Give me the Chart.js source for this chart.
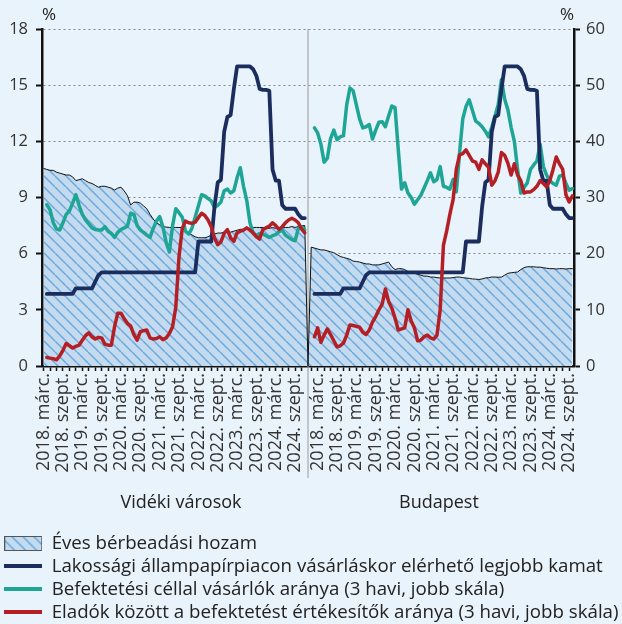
<!DOCTYPE html>
<html lang="hu">
<head>
<meta charset="utf-8">
<title>Bérbeadási hozam és befektetési célú vásárlások</title>
<script src="https://cdn.jsdelivr.net/npm/chart.js@4.4.1/dist/chart.umd.min.js"></script>
<style>
  html, body { margin: 0; padding: 0; background: #e8f3fb; }
  #wrap { width: 622px; height: 624px; }
</style>
</head>
<body>
<div id="wrap"><canvas id="chart" width="622" height="624"></canvas></div>
<script>
// panels and series names
var panels = ['Vidéki városok', 'Budapest'];
var seriesNames = [
    'Éves bérbeadási hozam',
    'Lakossági állampapírpiacon vásárláskor elérhető legjobb kamat',
    'Befektetési céllal vásárlók aránya (3 havi, jobb skála)',
    'Eladók között a befektetést értékesítők aránya (3 havi, jobb skála)'
];
var monthNames = ['jan.', 'febr.', 'márc.', 'ápr.', 'máj.', 'jún.', 'júl.', 'aug.', 'szept.', 'okt.', 'nov.', 'dec.'];
var shownMonths = ['márc.', 'szept.'];
// first month of each panel [year, month] and number of months per panel
var panelStart = [[2018, 3], [2018, 1]];
var panelMonths = 82;

// Vidéki városok (monthly)
var vidYield = [10.55, 10.5, 10.45, 10.45, 10.35, 10.3, 10.25, 10.2, 10.2, 10.1,
    9.9, 9.95, 10.0, 9.9, 9.8, 9.75, 9.65, 9.55, 9.6, 9.6,
    9.55, 9.5, 9.4, 9.5, 9.55, 9.35, 9.1, 8.6, 8.75, 8.75,
    8.7, 8.55, 8.4, 8.1, 7.85, 7.65, 7.55, 7.45, 7.42, 7.4,
    7.4, 7.4, 7.4, 7.4, 7.3, 7.1, 7.0, 6.9, 6.85, 6.85,
    6.85, 6.9, 7.0, 7.05, 7.1, 7.1, 7.15, 7.2, 7.15, 7.2,
    7.25, 7.3, 7.3, 7.3, 7.35, 7.4, 7.4, 7.4, 7.4, 7.38,
    7.35, 7.4, 7.35, 7.4, 7.4, 7.4, 7.4, 7.45, 7.4, 7.45,
    7.5, 7.5];
var vidBuyers = [null, 28.7, 27.8, 25.5, 24.4, 24.2, 25.5, 27.0, 27.6, 29.0,
    30.5, 28.6, 27.0, 26.0, 25.3, 24.6, 24.3, 24.2, 24.2, 24.8,
    24.0, 23.6, 22.9, 23.8, 24.3, 24.6, 24.9, 27.2, 27.0, 25.0,
    24.2, 23.8, 23.3, 22.9, 24.5, 25.8, 26.6, 24.8, 22.0, 20.3,
    25.0, 28.0, 27.3, 26.5, 24.0, 23.5, 24.5, 26.5, 28.5, 30.5,
    30.3, 29.8, 29.4, 28.2, 28.6, 29.2, 31.2, 31.5, 30.8, 31.2,
    33.5, 35.3, 32.0, 29.5, 25.5, 23.6, 23.2, 23.6, 23.5, 23.2,
    22.9, 23.2, 23.4, 23.9, 24.2, 23.3, 22.9, 22.5, 22.3, 24.5,
    24.8, 24.2];
var vidSellers = [null, 1.5, 1.4, 1.3, 1.1, 1.8, 2.8, 4.0, 3.6, 3.2,
    3.5, 3.7, 4.6, 5.4, 5.9, 5.2, 4.8, 5.1, 5.0, 3.9,
    3.7, 3.7, 7.0, 9.4, 9.4, 8.4, 7.6, 7.1, 5.6, 4.6,
    6.1, 6.3, 6.4, 5.0, 4.8, 4.9, 5.2, 4.7, 5.0, 5.8,
    7.0, 10.5, 19.5, 24.5, 25.8, 25.5, 25.4, 25.6, 26.4, 27.2,
    26.8, 26.0, 24.8, 22.8, 21.6, 22.1, 23.6, 24.3, 22.8, 22.2,
    23.7, 24.0, 24.2, 24.6, 24.2, 23.7, 23.0, 22.6, 24.3, 24.6,
    24.9, 25.5, 25.0, 24.3, 24.8, 25.5, 26.0, 26.3, 26.0, 25.5,
    24.4, 23.7];

// Budapest (monthly)
var bpYield = [6.35, 6.3, 6.25, 6.2, 6.2, 6.15, 6.1, 6.05, 5.95, 5.85,
    5.8, 5.75, 5.7, 5.6, 5.58, 5.55, 5.5, 5.45, 5.45, 5.4,
    5.4, 5.4, 5.45, 5.5, 5.55, 5.3, 5.15, 5.2, 5.2, 5.15,
    5.05, 5.0, 4.95, 4.9, 4.85, 4.8, 4.8, 4.75, 4.75, 4.72,
    4.7, 4.7, 4.7, 4.7, 4.72, 4.75, 4.75, 4.72, 4.7, 4.68,
    4.65, 4.64, 4.62, 4.65, 4.7, 4.72, 4.75, 4.75, 4.74, 4.75,
    4.85, 4.95, 4.98, 5.0, 5.02, 5.15, 5.25, 5.3, 5.3, 5.3,
    5.28, 5.28, 5.25, 5.22, 5.2, 5.2, 5.18, 5.2, 5.2, 5.18,
    5.2, 5.2];
var bpBuyers = [null, 42.4, 41.5, 39.5, 36.3, 37.0, 40.5, 42.0, 40.3, 40.8,
    41.0, 46.5, 49.5, 49.0, 46.5, 44.0, 42.4, 42.6, 43.0, 40.4,
    42.0, 43.4, 43.5, 42.6, 44.5, 46.3, 46.0, 38.5, 31.5, 32.6,
    30.8, 30.0, 28.8, 29.6, 30.4, 31.7, 33.0, 34.4, 32.8, 33.2,
    35.5, 32.0, 31.8, 31.5, 33.2, 31.0, 37.9, 44.0, 46.2, 47.4,
    45.5, 43.6, 43.2, 42.6, 41.8, 40.8, 42.5, 44.5, 46.5, 51.0,
    47.5, 45.6, 42.5, 40.0, 35.0, 30.8, 31.8, 32.6, 35.0, 35.8,
    36.5, 39.5, 35.5, 34.0, 33.0, 32.5, 32.2, 33.8, 34.0, 32.5,
    31.3, 31.6];
var bpSellers = [null, 5.2, 6.8, 4.2, 5.5, 6.6, 5.6, 4.5, 3.4, 3.6,
    4.1, 5.5, 7.3, 7.2, 7.05, 6.9, 6.0, 5.6, 6.4, 7.8,
    8.8, 10.0, 11.0, 13.7, 11.5, 10.3, 8.5, 6.4, 6.6, 6.8,
    10.0, 8.0, 6.8, 4.5, 4.6, 5.2, 5.5, 5.0, 4.8, 5.5,
    10.0, 21.5, 24.0, 27.0, 29.6, 35.0, 37.6, 37.8, 38.5, 37.5,
    36.5, 36.3, 35.0, 36.7, 36.0, 35.4, 32.2, 33.0, 34.5, 38.0,
    37.5, 36.1, 34.0, 36.0, 34.0, 33.0, 30.8, 31.0, 31.0, 31.4,
    32.0, 33.0, 32.5, 31.9, 33.0, 35.0, 37.2, 36.0, 35.0, 30.5,
    29.2, 30.3];

// best retail government bond rate - same line in both panels
var bondRate = [null, 3.85, 3.85, 3.85, 3.85, 3.85, 3.85, 3.85, 3.85, 3.85,
    4.15, 4.15, 4.15, 4.15, 4.15, 4.15, 4.5, 4.85, 5.0, 5.0,
    5.0, 5.0, 5.0, 5.0, 5.0, 5.0, 5.0, 5.0, 5.0, 5.0,
    5.0, 5.0, 5.0, 5.0, 5.0, 5.0, 5.0, 5.0, 5.0, 5.0,
    5.0, 5.0, 5.0, 5.0, 5.0, 5.0, 5.0, 5.0, 6.65, 6.65,
    6.65, 6.65, 6.65, 8.5, 9.8, 9.95, 12.5, 13.3, 13.4, 14.8,
    16.0, 16.0, 16.0, 16.0, 16.0, 15.85, 15.5, 14.8, 14.75, 14.75,
    14.7, 10.5, 9.9, 9.9, 8.6, 8.4, 8.4, 8.4, 8.4, 8.1,
    7.9, 7.9];

var colors = {
    area: '#c4daef',
    hatch: '#6ba9dd',
    rate: '#1b2d5e',
    buyers: '#1ea596',
    sellers: '#b41f26'
};
var fontFamily = '"Open Sans", "Noto Sans", sans-serif';

// month labels for the two panels, with one empty slot between them
function panelLabels(start) {
    var labels = [], nums = [];
    for (var k = 0; k < panelMonths; k++) {
        var m = (start[1] - 1 + k) % 12;
        var y = start[0] + Math.floor((start[1] - 1 + k) / 12);
        labels.push(y + '. ' + monthNames[m]);
        nums.push(m + 1);
    }
    return { labels: labels, nums: nums };
}
var p1 = panelLabels(panelStart[0]);
var p2 = panelLabels(panelStart[1]);
var gapIndex = panelMonths;
var xLabels = p1.labels.concat([''], p2.labels);
var xMonth = p1.nums.concat([0], p2.nums);

function joinPanels(a, b, gapValue) {
    return a.concat([gapValue], b);
}

function makeHatch(w, h, step) {
    var c = document.createElement('canvas');
    c.width = w; c.height = h;
    var g = c.getContext('2d');
    g.fillStyle = colors.area;
    g.fillRect(0, 0, w, h);
    g.strokeStyle = colors.hatch;
    g.lineWidth = 1.5;
    g.beginPath();
    for (var x = -h; x < w + h; x += step) {
        g.moveTo(x, 0);
        g.lineTo(x + h, h);
    }
    g.stroke();
    return c;
}

var tile = makeHatch(11, 11, 11);
var hatchPattern = document.createElement('canvas').getContext('2d').createPattern(tile, 'repeat');

function legendLine(color) {
    var c = document.createElement('canvas');
    c.width = 38; c.height = 4;
    var g = c.getContext('2d');
    g.fillStyle = color;
    g.fillRect(0, 0, 38, 4);
    return c;
}
var legendBox = makeHatch(38, 15, 11);
(function () {
    var g = legendBox.getContext('2d');
    g.strokeStyle = '#555';
    g.lineWidth = 1;
    g.strokeRect(0.5, 0.5, 37, 14);
})();
var legendIcons = [legendBox, legendLine(colors.rate), legendLine(colors.buyers), legendLine(colors.sellers)];

Chart.defaults.font.family = fontFamily;
Chart.defaults.font.size = 16;
Chart.defaults.color = '#333';

var extras = {
    id: 'extras',
    beforeDatasetsDraw(chart) {
        var ctx = chart.ctx;
        var x = chart.scales.x.getPixelForValue(gapIndex);
        ctx.save();
        ctx.strokeStyle = '#9a9a9a';
        ctx.lineWidth = 1;
        ctx.beginPath();
        ctx.moveTo(x, chart.chartArea.top);
        ctx.lineTo(x, 478);
        ctx.stroke();
        ctx.restore();
    },
    afterDraw(chart) {
        var ctx = chart.ctx;
        var xs = chart.scales.x;
        ctx.save();
        ctx.fillStyle = '#222';
        ctx.textAlign = 'center';
        ctx.textBaseline = 'middle';
        ctx.font = '17px ' + fontFamily;
        ctx.fillText('%', chart.chartArea.left + 7, 15);
        ctx.fillText('%', chart.chartArea.right - 7, 15);
        ctx.font = '18px ' + fontFamily;
        ctx.fillText(panels[0], xs.getPixelForValue(42.6), 503);
        ctx.fillText(panels[1], xs.getPixelForValue(122.6), 503);
        ctx.restore();
    }
};

var ctx = document.getElementById('chart').getContext('2d');
var myChart = new Chart(ctx, {
    type: 'line',
    data: {
        labels: xLabels,
        datasets: [{
            label: seriesNames[0],
            data: joinPanels(vidYield, bpYield, 0),
            yAxisID: 'y',
            fill: 'origin',
            backgroundColor: hatchPattern,
            borderColor: '#111',
            borderWidth: 1,
            order: 10
        }, {
            label: seriesNames[1],
            data: joinPanels(bondRate, bondRate, null),
            yAxisID: 'y',
            borderColor: colors.rate,
            borderWidth: 3.8,
            order: 2
        }, {
            label: seriesNames[2],
            data: joinPanels(vidBuyers, bpBuyers, null),
            yAxisID: 'y2',
            borderColor: colors.buyers,
            borderWidth: 3.5,
            order: 3
        }, {
            label: seriesNames[3],
            data: joinPanels(vidSellers, bpSellers, null),
            yAxisID: 'y2',
            borderColor: colors.sellers,
            borderWidth: 3.5,
            order: 1
        }]
    },
    options: {
        responsive: false,
        animation: false,
        events: [],
        elements: {
            point: { radius: 0, hoverRadius: 0 },
            line: { tension: 0, borderJoinStyle: 'round', borderCapStyle: 'round' }
        },
        layout: { padding: { top: 29, bottom: -7.8, left: 0, right: 0 } },
        scales: {
            x: {
                type: 'category',
                offset: true,
                afterFit: function (s) { s.height = 163.8; },
                grid: {
                    offset: false,
                    drawOnChartArea: false,
                    tickLength: 5,
                    tickWidth: 1.5,
                    tickColor: function (c) {
                        return xMonth[c.index] % 2 === 1 ? '#111' : 'rgba(0,0,0,0)';
                    }
                },
                border: { color: '#111', width: 2.5 },
                ticks: {
                    autoSkip: false,
                    minRotation: 90,
                    maxRotation: 90,
                    padding: 2,
                    color: '#333',
                    font: { size: 18 },
                    callback: function (value) {
                        var lab = this.getLabelForValue(value);
                        for (var i = 0; i < shownMonths.length; i++) {
                            if (lab.endsWith(' ' + shownMonths[i])) return lab;
                        }
                        return '';
                    }
                }
            },
            y: {
                position: 'left',
                min: 0,
                max: 18,
                afterFit: function (s) { s.width = 42; },
                ticks: { stepSize: 3, padding: 8, color: '#333', font: { size: 16.5 } },
                grid: {
                    color: '#888',
                    lineWidth: 1,
                    tickLength: 6,
                    tickWidth: 2,
                    tickColor: '#111'
                },
                border: { color: '#111', width: 2.5, dash: [2, 3] }
            },
            y2: {
                position: 'right',
                min: 0,
                max: 60,
                afterFit: function (s) { s.width = 48; },
                ticks: { stepSize: 10, padding: 6, color: '#333', font: { size: 16.5 } },
                grid: {
                    drawOnChartArea: false,
                    tickLength: 6,
                    tickWidth: 2,
                    tickColor: '#111'
                },
                border: { color: '#111', width: 2.5 }
            }
        },
        plugins: {
            tooltip: { enabled: false },
            legend: {
                position: 'bottom',
                align: 'start',
                labels: {
                    usePointStyle: true,
                    pointStyleWidth: 38,
                    padding: 4.3,
                    color: '#222',
                    font: { size: 18.7 },
                    generateLabels: function (chart) {
                        var items = Chart.defaults.plugins.legend.labels.generateLabels(chart);
                        items.forEach(function (it) { it.pointStyle = legendIcons[it.datasetIndex]; });
                        return items.sort(function (a, b) { return a.datasetIndex - b.datasetIndex; });
                    }
                }
            }
        }
    },
    plugins: [extras]
});
</script>
</body>
</html>
